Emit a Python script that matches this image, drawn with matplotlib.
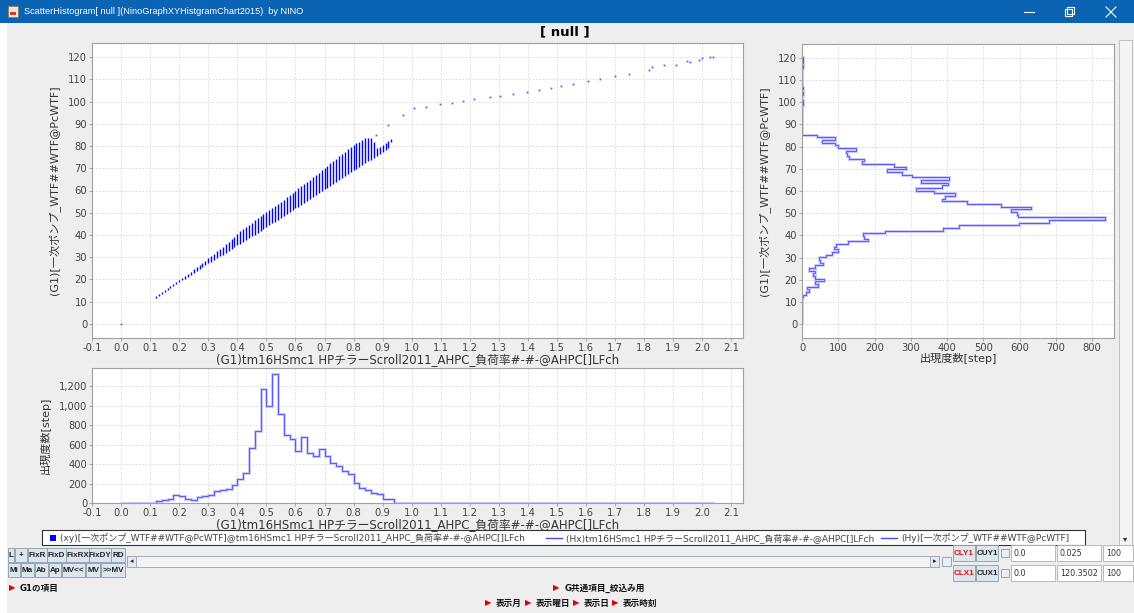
import numpy as np
import matplotlib
matplotlib.use('Agg')
import matplotlib.pyplot as plt
from matplotlib.patches import Rectangle
from matplotlib.ticker import MultipleLocator, FormatStrFormatter, FuncFormatter

plt.rcParams['font.family'] = ['DejaVu Sans', 'Noto Sans CJK JP']

# ---- data ----
# scatter: each column of points at one load ratio, from lowest to highest pump value
col_x = [0.12, 0.13, 0.14, 0.15, 0.16, 0.17, 0.18, 0.19, 0.20, 0.21,
         0.22, 0.23, 0.24, 0.25, 0.26, 0.27, 0.28, 0.29, 0.30, 0.31,
         0.32, 0.33, 0.34, 0.35, 0.36, 0.37, 0.38, 0.39, 0.40, 0.41,
         0.42, 0.43, 0.44, 0.45, 0.46, 0.47, 0.48, 0.49, 0.50, 0.51,
         0.52, 0.53, 0.54, 0.55, 0.56, 0.57, 0.58, 0.59, 0.60, 0.61,
         0.62, 0.63, 0.64, 0.65, 0.66, 0.67, 0.68, 0.69, 0.70, 0.71,
         0.72, 0.73, 0.74, 0.75, 0.76, 0.77, 0.78, 0.79, 0.80, 0.81,
         0.82, 0.83, 0.84, 0.85, 0.86, 0.87, 0.88, 0.89, 0.90, 0.91,
         0.92, 0.93]
col_lo = [11.8, 12.6, 13.4, 14.3, 15.2, 16.0, 16.9, 17.8, 18.7, 19.6,
          20.4, 21.3, 22.1, 23.0, 23.9, 24.6, 25.5, 26.3, 27.2, 28.0,
          28.8, 29.6, 30.4, 31.2, 32.0, 32.8, 33.6, 34.4, 35.3, 36.1,
          36.9, 37.7, 38.5, 39.4, 40.2, 41.0, 41.9, 42.7, 43.5, 44.3,
          45.2, 46.0, 46.9, 47.7, 48.6, 49.4, 50.3, 51.1, 52.0, 52.8,
          53.7, 54.5, 55.4, 56.2, 57.1, 57.9, 58.8, 59.6, 60.5, 61.3,
          62.2, 63.0, 63.9, 64.7, 65.6, 66.4, 67.3, 68.1, 69.0, 69.8,
          70.7, 71.5, 72.3, 73.1, 73.9, 74.8, 75.6, 76.4, 77.2, 78.0,
          79.0, 82.0]
col_hi = [12.8, 13.6, 14.5, 15.4, 16.3, 17.2, 18.0, 18.9, 19.9, 20.8,
          21.7, 22.6, 23.5, 24.5, 25.4, 26.4, 27.4, 28.4, 29.6, 30.6,
          31.6, 32.6, 33.6, 34.8, 35.8, 36.9, 38.0, 39.2, 40.6, 41.6,
          42.6, 43.6, 44.6, 45.6, 46.6, 47.6, 48.5, 49.4, 50.3, 51.2,
          52.1, 53.0, 54.0, 54.9, 55.9, 56.9, 57.9, 58.9, 59.9, 60.9,
          61.9, 62.9, 63.9, 64.9, 65.9, 67.0, 68.0, 69.0, 70.1, 71.1,
          72.2, 73.2, 74.3, 75.3, 76.4, 77.4, 78.5, 79.5, 80.5, 81.2,
          82.0, 82.8, 83.5, 83.8, 83.6, 82.0, 79.0, 79.6, 80.3, 81.2,
          82.2, 83.2]

# isolated points
pt_x = [0.0, 0.878, 0.918, 0.970, 1.007, 1.048, 1.096, 1.137, 1.178, 1.216,
        1.268, 1.305, 1.348, 1.396, 1.437, 1.478, 1.515, 1.556, 1.606, 1.647,
        1.698, 1.748, 1.818, 1.827, 1.867, 1.909, 1.946, 1.958, 1.987, 1.998,
        2.028, 2.037]
pt_y = [0.0, 84.9, 89.3, 93.8, 96.9, 97.7, 98.7, 99.2, 100.1, 101.0,
        101.9, 102.6, 103.5, 104.4, 105.3, 106.2, 107.1, 108.0, 109.2, 110.1,
        111.3, 112.4, 114.2, 115.4, 116.4, 116.6, 118.1, 117.8, 118.7, 119.4,
        120.0, 120.2]

# histogram of load ratio (bins of 0.02 starting at 0.0)
hx_start, hx_width = 0.0, 0.02
hx_counts = [1, 0, 0, 0, 0, 0, 17, 35, 45, 80,
             69, 41, 35, 62, 76, 86, 128, 138, 148, 190,
             248, 304, 570, 740, 1176, 996, 1331, 917, 703, 662,
             538, 675, 517, 479, 555, 489, 410, 376, 331, 296,
             203, 158, 134, 100, 92, 38, 37, 0, 1, 0,
             1, 0, 1, 0, 1, 0, 1, 0, 1, 0,
             1, 0, 0, 1, 0, 1, 0, 1, 0, 1,
             0, 1, 0, 1, 0, 1, 0, 1, 0, 0,
             1, 0, 1, 0, 1, 0, 0, 1, 0, 0,
             1, 1, 0, 1, 0, 1, 0, 2, 0, 2,
             0, 2]

# histogram of pump value (100 bins from 0.0 to 120.3502)
hy_start, hy_width = 0.0, 1.2035
hy_counts = [1, 0, 0, 0, 0, 0, 0, 0, 0, 0,
             3, 10, 18, 15, 45, 37, 60, 35, 30, 35,
             20, 37, 58, 50, 48, 65, 83, 100, 88, 95,
             128, 183, 170, 168, 230, 390, 433, 597, 680, 835,
             595, 593, 575, 630, 548, 455, 385, 395, 423, 365,
             315, 385, 403, 328, 405, 302, 275, 235, 288, 253,
             165, 170, 130, 125, 122, 148, 100, 90, 55, 92,
             40, 0, 0, 0, 1, 0, 0, 1, 0, 0,
             1, 1, 2, 2, 1, 1, 2, 1, 2, 1,
             1, 1, 1, 1, 1, 1, 2, 1, 2, 3]

x_label = '(G1)tm16HSmc1 HPチラーScroll2011_AHPC_負荷率#-#-@AHPC[]LFch'
y_label = '(G1)[一次ポンプ_WTF##WTF@PcWTF]'
n_label = '出現度数[step]'

# ---- layout (pixel boxes) ----
W, H = 1134, 613


def box(l, t, r, b):
    return [l / W, 1 - b / H, (r - l) / W, (b - t) / H]


fig = plt.figure(figsize=(W / 100, H / 100), dpi=100)
fig.patch.set_facecolor('#eeeeee')

# window chrome drawn in pixel coordinates
ui = fig.add_axes([0, 0, 1, 1])
ui.set_xlim(0, W)
ui.set_ylim(H, 0)
ui.axis('off')

ui.add_patch(Rectangle((0, 0), W, 23, fc='#0b63b3', ec='none'))
ui.add_patch(Rectangle((0, 23), 7, H - 23, fc='white', ec='none'))
ui.add_patch(Rectangle((8, 6), 10, 11, fc='#efe6d6', ec='#8a7a6a', lw=0.6))
ui.add_patch(Rectangle((10, 12), 6, 3, fc='#d04020', ec='none'))
ui.text(24, 12, 'ScatterHistogram[ null ](NinoGraphXYHistgramChart2015)  by NINO',
        color='white', fontsize=6.6, va='center', family=['Liberation Sans', 'DejaVu Sans'])
ui.plot([1024, 1034], [12, 12], color='white', lw=0.8)
ui.add_patch(Rectangle((1065, 9), 7, 7, fc='none', ec='white', lw=0.8))
ui.add_patch(Rectangle((1067, 7), 7, 7, fc='none', ec='white', lw=0.8))
ui.plot([1106, 1116], [7, 17], color='white', lw=0.8)
ui.plot([1106, 1116], [17, 7], color='white', lw=0.8)

ui.text(565, 32, '[ null ]', fontsize=9.5, fontweight='bold', ha='center', va='center')

# vertical scroll strip on the right
ui.add_patch(Rectangle((1119, 40), 13, 505, fc='#f4f4f4', ec='#b8b8b8', lw=0.6))
ui.text(1125.5, 539, '▾', fontsize=6, ha='center', va='center', color='#333333')

# legend box
ui.add_patch(Rectangle((42, 530), 1043, 15, fc='white', ec='#333333', lw=0.8))
ui.add_patch(Rectangle((50, 534.5), 6, 6, fc='#0000ff', ec='none'))
leg_kw = dict(fontsize=6.5, va='center', color='#444444')
ui.text(60, 538, '(xy)[一次ポンプ_WTF##WTF@PcWTF]@tm16HSmc1 HPチラーScroll2011_AHPC_負荷率#-#-@AHPC[]LFch', **leg_kw)
ui.plot([546, 562], [538, 538], color='#4a4aff', lw=1.0)
ui.text(566, 538, '(Hx)tm16HSmc1 HPチラーScroll2011_AHPC_負荷率#-#-@AHPC[]LFch', **leg_kw)
ui.plot([881, 897], [538, 538], color='#4a4aff', lw=1.0)
ui.text(901, 538, '(Hy)[一次ポンプ_WTF##WTF@PcWTF]', **leg_kw)


def button(x0, x1, y0, y1, label, color='#222222'):
    ui.add_patch(Rectangle((x0, y0), x1 - x0, y1 - y0, fc='#dde5ee', ec='#8899aa', lw=0.6))
    ui.text((x0 + x1) / 2, (y0 + y1) / 2 + 0.5, label, ha='center', va='center',
            fontsize=5.8, fontweight='bold', color=color, family=['Liberation Sans', 'DejaVu Sans'])


for x0, x1, lab in [(8, 14, 'L'), (15, 27, '+'), (28, 47, 'FixR'), (47, 66, 'FixD'),
                    (66, 89, 'FixRX'), (89, 111, 'FixDY'), (111, 125, 'RD')]:
    button(x0, x1, 548, 562, lab)
for x0, x1, lab in [(8, 20, 'Mi'), (21, 34, 'Ma'), (35, 48, 'Ab'), (49, 61, 'Ap'),
                    (62, 85, 'MV<<'), (86, 100, 'MV'), (101, 125, '>>MV')]:
    button(x0, x1, 563, 577, lab)

# horizontal scroll bar
ui.add_patch(Rectangle((127, 556), 812, 11, fc='#f4f4f4', ec='#99a4b0', lw=0.6))
ui.add_patch(Rectangle((127, 556), 9, 11, fc='#e4e9ef', ec='#99a4b0', lw=0.6))
ui.add_patch(Rectangle((930, 556), 9, 11, fc='#e4e9ef', ec='#99a4b0', lw=0.6))
ui.text(131.5, 561.5, '◂', fontsize=5, ha='center', va='center', color='#222222')
ui.text(934.5, 561.5, '▸', fontsize=5, ha='center', va='center', color='#222222')
ui.add_patch(Rectangle((942, 557), 9, 9, fc='#e8eef4', ec='#8899aa', lw=0.6))

# bin setting controls
rows = [(545, 561, 'CLY1', 'CUY1', ['0.0', '0.025', '100']),
        (565, 581, 'CLX1', 'CUX1', ['0.0', '120.3502', '100'])]
for y0, y1, lo_lab, up_lab, fields in rows:
    button(953, 975, y0, y1, lo_lab, color='#e01010')
    button(976, 998, y0, y1, up_lab)
    ui.add_patch(Rectangle((1001, y0 + 4), 8, 8, fc='#e8eef4', ec='#8899aa', lw=0.6))
    for (f0, f1), val in zip([(1011, 1055), (1057, 1101), (1103, 1133)], fields):
        ui.add_patch(Rectangle((f0, y0), f1 - f0, y1 - y0, fc='white', ec='#a8b0b8', lw=0.6))
        ui.text(f0 + 3, (y0 + y1) / 2, val, fontsize=5.8, va='center', color='#333333')

# item selectors
tri_kw = dict(fontsize=6, color='#e00000', va='center', ha='center')
sel_kw = dict(fontsize=6.2, va='center', color='#111111', fontweight='bold')
ui.text(12, 588, '▶', **tri_kw)
ui.text(20, 588, 'G1の項目', **sel_kw)
ui.text(556, 588, '▶', **tri_kw)
ui.text(565, 588, 'G共通項目_絞込み用', **sel_kw)
for tx, lab in [(488, '表示月'), (528, '表示曜日'), (576, '表示日'), (615, '表示時刻')]:
    ui.text(tx, 603, '▶', **tri_kw)
    ui.text(tx + 8, 603, lab, **sel_kw)


# ---- chart panels ----
def style(ax):
    ax.set_facecolor('white')
    for s in ax.spines.values():
        s.set_color('#a0a0a0')
        s.set_linewidth(0.8)
    ax.grid(True, color='#d6d6d6', ls=(0, (2, 2)), lw=0.6)
    ax.set_axisbelow(True)
    ax.tick_params(length=2, width=0.6, color='#999999', labelsize=7.2,
                   labelcolor='#444444', pad=1.5)


lab_kw = dict(fontsize=8.0, color='#333333')
xlab_kw = dict(fontsize=8.5, color='#333333')

# scatter
ax = fig.add_axes(box(92, 43, 743, 338))
style(ax)
ax.vlines(col_x, col_lo, col_hi, colors='#0000ff', lw=1.0)
ax.plot(pt_x, pt_y, 's', ms=1.3, mew=0, color='#5a5aff')
ax.set_xlim(-0.1, 2.14)
ax.set_ylim(-6.3, 126.3)
ax.xaxis.set_major_locator(MultipleLocator(0.1))
ax.xaxis.set_major_formatter(FormatStrFormatter('%.1f'))
ax.yaxis.set_major_locator(MultipleLocator(10))
ax.set_xlabel(x_label, labelpad=0, **xlab_kw)
ax.set_ylabel(y_label, labelpad=6, **lab_kw)

# histogram of pump value (horizontal)
ay = fig.add_axes(box(802, 44, 1114, 338))
style(ay)
y_edges = hy_start + hy_width * np.arange(len(hy_counts) + 1)
ay.stairs(hy_counts, y_edges, orientation='horizontal', color='#c4c4ff', lw=2.0)
ay.stairs(hy_counts, y_edges, orientation='horizontal', color='#5a5aff', lw=0.7)
ay.set_xlim(0, 860)
ay.set_ylim(-6.3, 126.3)
ay.xaxis.set_major_locator(MultipleLocator(100))
ay.yaxis.set_major_locator(MultipleLocator(10))
ay.set_xlabel(n_label, labelpad=0, **lab_kw)
ay.set_ylabel(y_label, labelpad=6, **lab_kw)

# histogram of load ratio
ah = fig.add_axes(box(92, 368, 743, 503))
style(ah)
x_edges = hx_start + hx_width * np.arange(len(hx_counts) + 1)
ah.stairs(hx_counts, x_edges, color='#c4c4ff', lw=2.0)
ah.stairs(hx_counts, x_edges, color='#5a5aff', lw=0.7)
ah.set_xlim(-0.1, 2.14)
ah.set_ylim(0, 1390)
ah.xaxis.set_major_locator(MultipleLocator(0.1))
ah.xaxis.set_major_formatter(FormatStrFormatter('%.1f'))
ah.yaxis.set_major_locator(MultipleLocator(200))
ah.yaxis.set_major_formatter(FuncFormatter(lambda v, p: f'{int(round(v)):,}'))
ah.set_xlabel(x_label, labelpad=0, **xlab_kw)
ah.set_ylabel(n_label, labelpad=6, **lab_kw)

fig.savefig('out.png', dpi=100, facecolor=fig.get_facecolor())
